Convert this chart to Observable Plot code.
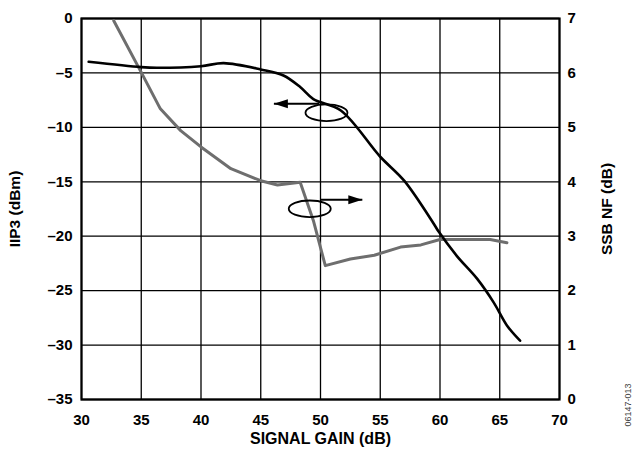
<!DOCTYPE html>
<html><head><meta charset="utf-8">
<script src="https://cdn.jsdelivr.net/npm/d3@7"></script>
<script src="https://cdn.jsdelivr.net/npm/@observablehq/plot@0.6"></script>
<style>body{margin:0;background:#fff}</style>
</head><body><div id="chart"></div>
<script>
// IIP3 (dBm) vs signal gain (dB)
const iip3Gain = [30.6, 35, 36.3, 40, 41.9, 45, 46.9, 48.3, 49.4, 51.7, 55, 57, 59.5, 59.9, 61.4, 63.1, 64.5, 65.6, 66.7];
const iip3Val  = [-3.98, -4.47, -4.53, -4.38, -4.1, -4.68, -5.24, -6.3, -7.4, -8.45, -12.7, -14.9, -18.9, -19.6, -21.8, -23.9, -26.1, -28.2, -29.6];
// SSB NF (dB) vs signal gain (dB)
const nfGain = [32.7, 35, 36.6, 38.3, 40, 42.5, 45, 46.4, 48.3, 49.4, 50.4, 52.5, 54.5, 56.7, 58.4, 60, 61.7, 64.2, 65.6];
const nfVal  = [6.96, 6.01, 5.34, 4.94, 4.64, 4.24, 4.02, 3.94, 3.99, 3.29, 2.46, 2.58, 2.65, 2.80, 2.84, 2.94, 2.94, 2.94, 2.88];
const xTicks = [30, 35, 40, 45, 50, 55, 60, 65, 70];
const yTicks = [0, -5, -10, -15, -20, -25, -30, -35];
const nfTicks = [0, 1, 2, 3, 4, 5, 6, 7];
// annotation anchors (data units: gain dB, IIP3 dBm)
const arrowLeft = {x1: 49.9, x2: 46.1, y: -7.84};
const ellipseLeft = {x: 50.5, y: -8.66};
const arrowRight = {x1: 50.0, x2: 53.5, y: -16.65};
const ellipseRight = {x: 49.1, y: -17.48};

const nfToY = v => v * 5 - 35;
const iip3 = iip3Gain.map((g, i) => ({g, v: iip3Val[i]}));
const nf = nfGain.map((g, i) => ({g, v: nfToY(nfVal[i])}));

const ellipseSym = {draw(ctx) {
  const rx = 21, ry = 8.3, k = 0.5523;
  ctx.moveTo(rx, 0);
  ctx.bezierCurveTo(rx, ry*k, rx*k, ry, 0, ry);
  ctx.bezierCurveTo(-rx*k, ry, -rx, ry*k, -rx, 0);
  ctx.bezierCurveTo(-rx, -ry*k, -rx*k, -ry, 0, -ry);
  ctx.bezierCurveTo(rx*k, -ry, rx, -ry*k, rx, 0);
  ctx.closePath();
}};
const headSym = {draw(ctx) { // tip at origin, pointing right
  ctx.moveTo(0, 0); ctx.lineTo(-14, -4.5); ctx.lineTo(-14, 4.5); ctx.closePath();
}};

const font = "'Liberation Sans', Arial, sans-serif";
const fs = 15;
const chart = Plot.plot({
  width: 639, height: 449,
  marginLeft: 81, marginRight: 80, marginTop: 18, marginBottom: 50,
  style: {fontFamily: font, fontSize: "15px", fontWeight: "bold", color: "#000", background: "#fff"},
  x: {domain: [30, 70]},
  y: {domain: [-35, 0]},
  marks: [
    Plot.gridX(xTicks, {stroke: "#000", strokeOpacity: 1, strokeWidth: 1.3}),
    Plot.gridY(yTicks, {stroke: "#000", strokeOpacity: 1, strokeWidth: 1.3}),
    Plot.frame({stroke: "#000", strokeWidth: 2.2}),
    Plot.axisX({ticks: xTicks, tickSize: 0, tickPadding: 15, fontSize: fs, label: null}),
    Plot.axisX({ticks: [], tickSize: 0, label: "SIGNAL GAIN (dB)", labelAnchor: "center", labelArrow: "none", labelOffset: 44, fontSize: 16, dx: 4}),
    Plot.axisY({ticks: yTicks, tickSize: 0, tickPadding: 9, fontSize: fs, tickFormat: d => d < 0 ? "\u2013" + Math.abs(d) : String(d), label: null}),
    Plot.axisY({ticks: [], tickSize: 0, label: "IIP3 (dBm)", labelAnchor: "center", labelArrow: "none", labelOffset: 73, fontSize: 15.5}),
    Plot.axisY({anchor: "right", ticks: nfTicks.map(nfToY), tickSize: 0, tickPadding: 8, fontSize: fs, tickFormat: d => String(Math.round((d + 35) / 5)), label: null}),
    Plot.axisY({anchor: "right", ticks: [], tickSize: 0, label: "SSB NF (dB)", labelAnchor: "center", labelArrow: "none", labelOffset: 52, fontSize: 15.5}),
    Plot.line(nf, {x: "g", y: "v", stroke: "#6e6e6e", strokeWidth: 3, curve: "linear"}),
    Plot.line(iip3, {x: "g", y: "v", stroke: "#000", strokeWidth: 2.6, curve: "catmull-rom"}),
    Plot.link([arrowLeft, arrowRight], {x1: "x1", x2: "x2", y1: "y", y2: "y", stroke: "#000", strokeWidth: 2}),
    Plot.dot([arrowLeft], {x: "x2", y: "y", symbol: headSym, fill: "#000", stroke: "none", rotate: 180}),
    Plot.dot([arrowRight], {x: "x2", y: "y", symbol: headSym, fill: "#000", stroke: "none"}),
    Plot.dot([ellipseLeft, ellipseRight], {x: "x", y: "y", symbol: ellipseSym, fill: "none", stroke: "#000", strokeWidth: 1.8})
  ]
});
document.getElementById("chart").appendChild(chart);
const svg = d3.select(chart);
svg.append("text").attr("transform", "translate(628,405) rotate(-90)")
  .attr("font-family", font).attr("font-size", 9).attr("font-weight", "normal").attr("fill", "#444")
  .attr("text-anchor", "middle").attr("dy", "0.35em").text("06147-013");
</script></body></html>
